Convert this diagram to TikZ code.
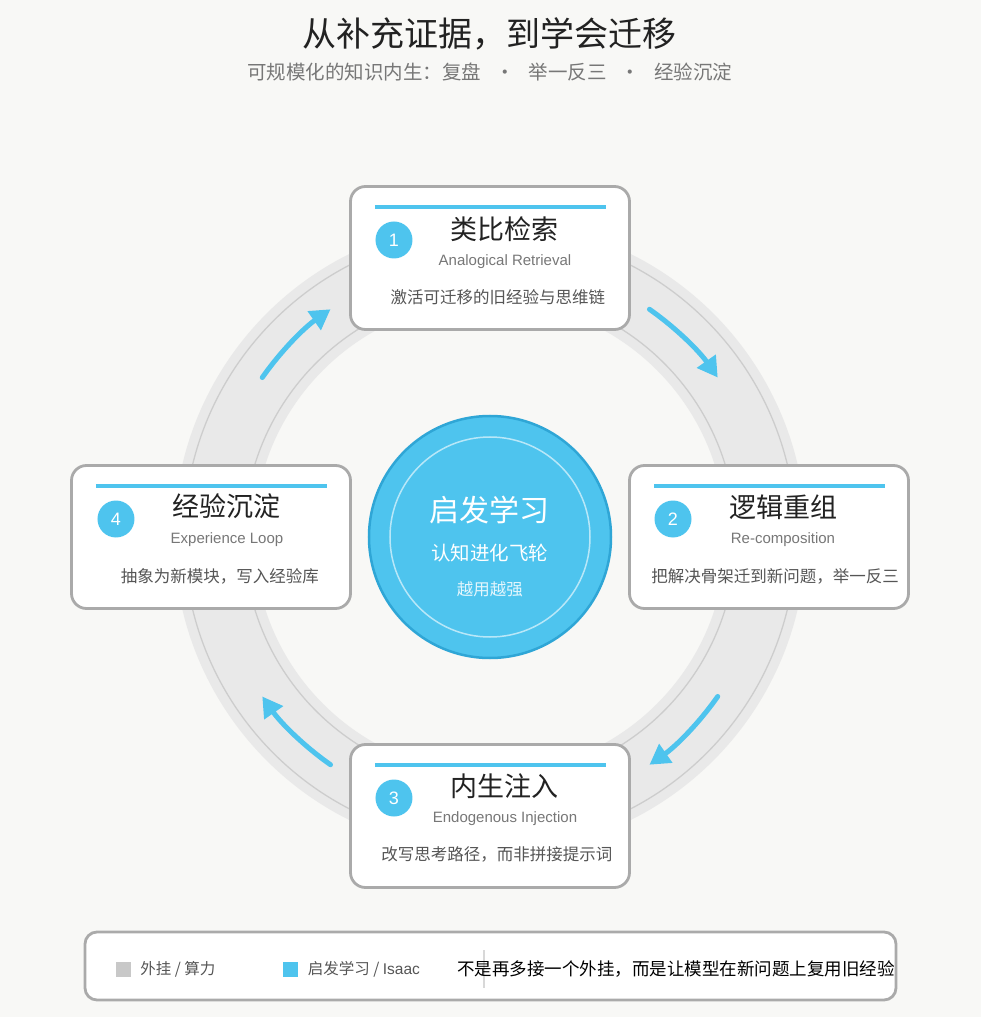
\documentclass[tikz,border=0pt]{standalone}
\usepackage{fontspec}
\setmainfont{Noto Sans CJK SC}
\newfontfamily\latinsans{Liberation Sans}
\usetikzlibrary{arrows.meta,positioning}

\definecolor{pagebg}{HTML}{F8F8F6}
\definecolor{skyblue}{HTML}{4EC4EE}
\definecolor{hubedge}{HTML}{2FA6D6}
\definecolor{bandgray}{HTML}{E9E9E9}
\definecolor{bandline}{HTML}{CDCDCD}
\definecolor{boxline}{HTML}{AAAAAA}
\definecolor{keygray}{HTML}{C8C8C8}
\definecolor{txtdark}{HTML}{222222}
\definecolor{txtmid}{HTML}{555555}
\definecolor{txtsoft}{HTML}{777777}

\tikzset{
  stepbox/.style={draw=boxline, line width=2.8pt, fill=white, rounded corners=15pt,
    minimum width=279pt, minimum height=143pt},
  topbar/.style={skyblue, line width=4pt},
  numdot/.style={circle, fill=skyblue, minimum size=37pt, inner sep=0pt, text=white,
    font=\latinsans\fontsize{18}{18}\selectfont},
  steptitle/.style={text=txtdark, inner sep=0pt, font=\fontsize{27}{30}\selectfont},
  stepsub/.style={text=txtsoft, inner sep=0pt, font=\latinsans\fontsize{15}{17}\selectfont},
  stepnote/.style={text=txtmid, inner sep=0pt, font=\fontsize{16.5}{18}\selectfont},
  flow/.style={skyblue, line width=5pt, line cap=round, -{Triangle[length=20pt,width=22pt]}},
  swatch/.style={minimum size=15pt, inner sep=0pt},
  keytext/.style={text=txtmid, inner sep=0pt, font=\fontsize{15.5}{17}\selectfont}
}

\begin{document}
\begin{tikzpicture}[x=1pt,y=1pt]

\useasboundingbox (-490,-480) rectangle (491,537);
\fill [pagebg] (-490,-480) rectangle (491,537);

\node [text=txtdark, font=\fontsize{34}{38}\selectfont] (title) at (0,503) {从补充证据，到学会迁移};
\node [text=txtsoft, font=\fontsize{19.5}{22}\selectfont] (subtitle) at (0,465)
  {可规模化的知识内生：复盘\hspace{14pt}·\hspace{14pt}举一反三\hspace{14pt}·\hspace{14pt}经验沉淀};

% ring
\fill [bandgray, even odd rule] (0,0) circle [radius=316] circle [radius=236];
\draw [bandline, line width=1.3pt] (0,0) circle [radius=306];
\draw [bandline, line width=1.3pt] (0,0) circle [radius=246];

\coordinate (f1) at (55:278);
\coordinate (f2) at (-35:278);
\coordinate (f3) at (-125:278);
\coordinate (f4) at (145:278);
\draw [flow] (f1) arc [start angle=55, end angle=35, radius=278];
\draw [flow] (f2) arc [start angle=-35, end angle=-55, radius=278];
\draw [flow] (f3) arc [start angle=-125, end angle=-145, radius=278];
\draw [flow] (f4) arc [start angle=145, end angle=125, radius=278];

% step 1
\node [stepbox] (s1) at (0,279) {};
\draw [topbar] ([shift={(-115,51)}]s1.center) -- ([shift={(116,51)}]s1.center);
\node [numdot] (n1) at ([shift={(-96,18)}]s1.center) {1};
\node [steptitle] (t1) at ([shift={(15,29)}]s1.center) {类比检索};
\node [stepsub] (e1) at ([shift={(15,-4)}]s1.center) {Analogical Retrieval};
\node [stepnote] (d1) at ([shift={(8,-39)}]s1.center) {激活可迁移的旧经验与思维链};

% step 2
\node [stepbox] (s2) at (279,0) {};
\draw [topbar] ([shift={(-115,51)}]s2.center) -- ([shift={(116,51)}]s2.center);
\node [numdot] (n2) at ([shift={(-96,18)}]s2.center) {2};
\node [steptitle] (t2) at ([shift={(14,30)}]s2.center) {逻辑重组};
\node [stepsub] (e2) at ([shift={(14,-3)}]s2.center) {Re-composition};
\node [stepnote] (d2) at ([shift={(6,-39)}]s2.center) {把解决骨架迁到新问题，举一反三};

% step 3
\node [stepbox] (s3) at (0,-279) {};
\draw [topbar] ([shift={(-115,51)}]s3.center) -- ([shift={(116,51)}]s3.center);
\node [numdot] (n3) at ([shift={(-96,18)}]s3.center) {3};
\node [steptitle] (t3) at ([shift={(15,30)}]s3.center) {内生注入};
\node [stepsub] (e3) at ([shift={(15,-3)}]s3.center) {Endogenous Injection};
\node [stepnote] (d3) at ([shift={(7,-38)}]s3.center) {改写思考路径，而非拼接提示词};

% step 4
\node [stepbox] (s4) at (-279,0) {};
\draw [topbar] ([shift={(-115,51)}]s4.center) -- ([shift={(116,51)}]s4.center);
\node [numdot] (n4) at ([shift={(-95,18)}]s4.center) {4};
\node [steptitle] (t4) at ([shift={(16,31)}]s4.center) {经验沉淀};
\node [stepsub] (e4) at ([shift={(16,-3)}]s4.center) {Experience Loop};
\node [stepnote] (d4) at ([shift={(9,-39)}]s4.center) {抽象为新模块，写入经验库};

% hub
\node [circle, fill=skyblue, draw=hubedge, line width=2.5pt, minimum size=242pt] (hub) at (0,0) {};
\draw [white, opacity=0.6, line width=1.5pt] (hub.center) circle [radius=100];
\node [text=white, inner sep=0pt, font=\fontsize{30}{32}\selectfont] (h1) at ([yshift=27]hub.center) {启发学习};
\node [text=white, inner sep=0pt, font=\fontsize{19.5}{21}\selectfont] (h2) at ([yshift=-16]hub.center) {认知进化飞轮};
\node [text=white, opacity=0.85, inner sep=0pt, font=\fontsize{16.5}{18}\selectfont] (h3) at ([yshift=-52]hub.center) {越用越强};

% legend
\node [draw=boxline, line width=2.8pt, fill=white, rounded corners=12pt,
  minimum width=811pt, minimum height=68pt] (leg) at (0.5,-429) {};
\node [swatch, fill=keygray] (k1) at (-366.5,-432) {};
\node [keytext, right=9pt of k1] (k1t) {外挂 / 算力};
\node [swatch, fill=skyblue] (k2) at (-199,-432) {};
\node [keytext, right=9pt of k2] (k2t) {启发学习 / {\latinsans Isaac}};
\draw [keygray!70, line width=1.2pt] (-6,-413) -- (-6,-451);
\node [anchor=west, inner sep=0pt, text=black, font=\fontsize{17.5}{19}\selectfont] (motto) at (-33,-432)
  {不是再多接一个外挂，而是让模型在新问题上复用旧经验};

\end{tikzpicture}
\end{document}
